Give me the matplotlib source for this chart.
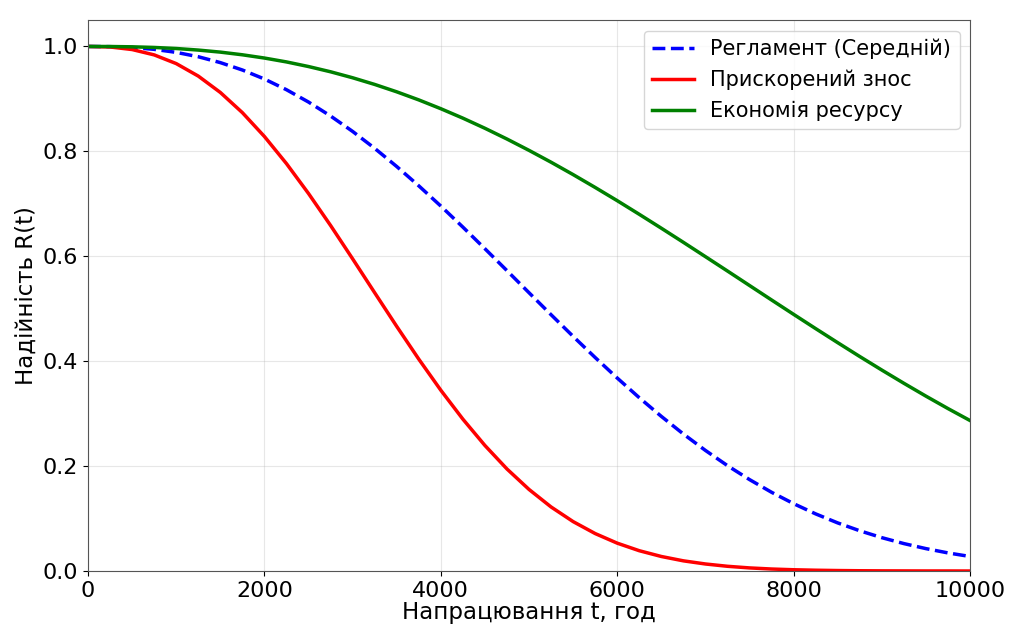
import matplotlib
matplotlib.use("Agg")
import matplotlib.pyplot as plt

# напрацювання, год
hours = [0, 250, 500, 750, 1000, 1250, 1500, 1750, 2000, 2250, 2500, 2750, 3000, 3250,
         3500, 3750, 4000, 4250, 4500, 4750, 5000, 5250, 5500, 5750, 6000, 6250, 6500,
         6750, 7000, 7250, 7500, 7750, 8000, 8250, 8500, 8750, 9000, 9250, 9500, 9750, 10000]

# ймовірність безвідмовної роботи R(t) для трьох режимів
r_reglament = [1.000, 0.9996, 0.998, 0.9945, 0.9887, 0.9804, 0.9692, 0.9551, 0.9379, 0.9175,
               0.8940, 0.8674, 0.8380, 0.8058, 0.7711, 0.7343, 0.6957, 0.6556, 0.6144, 0.5726,
               0.5305, 0.4886, 0.4473, 0.4070, 0.3679, 0.3304, 0.2948, 0.2612, 0.2299, 0.2009,
               0.1743, 0.1501, 0.1284, 0.1089, 0.0917, 0.0767, 0.0636, 0.0523, 0.0427, 0.0345,
               0.0277]
r_znos = [1.000, 0.9990, 0.9941, 0.9839, 0.9673, 0.9435, 0.9123, 0.8738, 0.8283, 0.7766,
          0.7196, 0.6587, 0.5951, 0.5305, 0.4663, 0.4039, 0.3446, 0.2895, 0.2393, 0.1945,
          0.1555, 0.1221, 0.0942, 0.0714, 0.0531, 0.0387, 0.0277, 0.0194, 0.0134, 0.0090,
          0.0059, 0.0038, 0.0024, 0.0015, 0.0009, 0.0005, 0.0003, 0.0002, 0.0001, 0.0001,
          0.0000]
r_ekonomiya = [1.000, 0.9999, 0.9993, 0.9981, 0.9961, 0.9931, 0.9892, 0.9841, 0.9779, 0.9705,
               0.9617, 0.9517, 0.9403, 0.9276, 0.9135, 0.8981, 0.8813, 0.8633, 0.8440, 0.8235,
               0.8019, 0.7793, 0.7557, 0.7312, 0.7060, 0.6800, 0.6535, 0.6266, 0.5993, 0.5719,
               0.5443, 0.5167, 0.4893, 0.4621, 0.4353, 0.4089, 0.3831, 0.3579, 0.3334, 0.3097,
               0.2869]

fig = plt.figure(figsize=(10.12, 6.32), dpi=100)
ax = fig.add_subplot(111)
fig.subplots_adjust(left=0.087, right=0.9585, top=0.968, bottom=0.0965)

ax.plot(hours, r_reglament, "b--", linewidth=2.5, label="Регламент (Середній)")
ax.plot(hours, r_znos, "r-", linewidth=2.5, label="Прискорений знос")
ax.plot(hours, r_ekonomiya, "g-", linewidth=2.5, label="Економія ресурсу")

ax.set_xlim(0, 10000)
ax.set_ylim(0, 1.05)
ax.set_xticks([0, 2000, 4000, 6000, 8000, 10000])
ax.set_yticks([0.0, 0.2, 0.4, 0.6, 0.8, 1.0])
ax.tick_params(labelsize=16)
ax.set_xlabel("Напрацювання t, год", fontsize=16.5, labelpad=0)
ax.set_ylabel("Надійність R(t)", fontsize=16.5)
ax.grid(True, alpha=0.3)
for s in ax.spines.values():
    s.set_color("#555555")
ax.legend(loc="upper right", fontsize=15)

plt.savefig("out.png", dpi=100)
